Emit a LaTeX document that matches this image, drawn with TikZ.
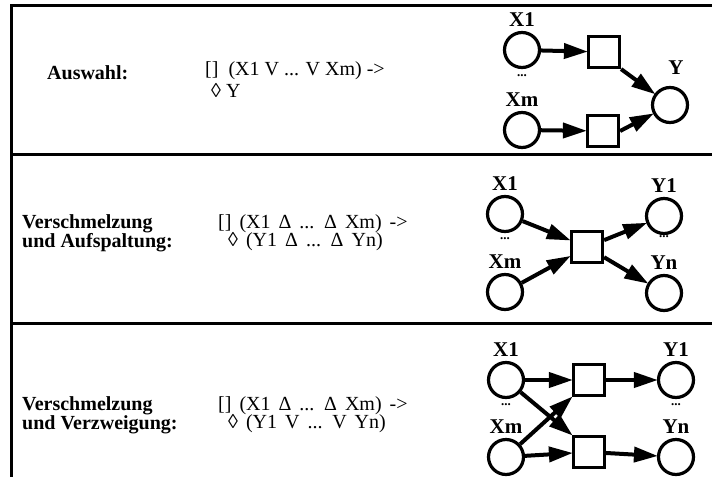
\documentclass[tikz,border=0pt]{standalone}
\usepackage{fontspec}
\setmainfont{Liberation Serif}
\usetikzlibrary{arrows.meta}
\usetikzlibrary{positioning}

\tikzset{
  place/.style={circle,draw,line width=3.2pt,minimum size=35pt,inner sep=0pt},
  trans/.style={rectangle,draw,line width=3.2pt,minimum size=31pt,inner sep=0pt},
  flow/.style={line width=4pt,-{Triangle[length=24pt,width=15pt]},shorten >=-1pt},
  lbl/.style={font=\bfseries\fontsize{21}{21}\selectfont,inner sep=0pt},
  dots/.style={font=\bfseries\fontsize{13}{13}\selectfont,inner sep=0pt},
  kind/.style={font=\bfseries\fontsize{20}{19}\selectfont,align=left,anchor=west,inner sep=0pt},
  formula/.style={font=\fontsize{20}{19}\selectfont,anchor=west,inner sep=0pt},
  wide/.style={formula,execute at begin node={\spaceskip=0.4em plus 0.1em}},
  frame/.style={line width=3pt}
}

\begin{document}
\begin{tikzpicture}[x=1pt,y=-1pt]
\useasboundingbox (0,0) rectangle (712,477);

\draw[frame] (712,5) -- (11,5) -- (11,477);
\draw[frame] (11,154) -- (712,154);
\draw[frame] (11,323) -- (712,323);

% Auswahl
\node[kind] (aw) at (47,73) {Auswahl:};
\node[formula] (aw1) at (205,71) {[]\ \ (X1 V ... V Xm) ->};
\node[formula] (aw2) at (211,90) {◊ Y};

\node[place] (ax1) at (522,50) {};
\node[place] (axm) at (522,130) {};
\node[trans] (at1) at (604,52) {};
\node[trans] (at2) at (603,131) {};
\node[place] (ay) at (670,105) {};
\node[lbl,above=4pt of ax1] (ax1l) {X1};
\node[lbl,above=4pt of axm] (axml) {Xm};
\node[dots,below=5pt of ax1] (axd) {...};
\node[lbl] (ayl) at (676,68) {Y};
\draw[flow] (ax1) -- (at1);
\draw[flow] (axm) -- (at2);
\draw[flow] (at1.south east) -- (ay);
\draw[flow] (at2.east) -- (ay);

% Verschmelzung und Aufspaltung
\node[kind] (va) at (22,233) {Verschmelzung\\und Aufspaltung:};
\node[wide] (va1) at (218,224) {[] (X1 Δ ... Δ Xm) ->};
\node[wide] (va2) at (228,242) {◊ (Y1 Δ ... Δ Yn)};

\node[place] (bx1) at (505,214) {};
\node[place] (bxm) at (505,292) {};
\node[trans] (bt) at (587,247) {};
\node[place] (by1) at (664,216) {};
\node[place] (byn) at (664,293) {};
\node[lbl,above=4pt of bx1] (bx1l) {X1};
\node[lbl,above=4pt of bxm] (bxml) {Xm};
\node[lbl,above=4pt of by1] (by1l) {Y1};
\node[lbl,above=4pt of byn] (bynl) {Yn};
\node[dots,below=4pt of bx1] (bxd) {...};
\node[dots,below=0pt of by1] (byd) {...};
\draw[flow] (bx1) -- (bt);
\draw[flow] (bxm) -- (bt);
\draw[flow] (bt) -- (by1);
\draw[flow] (bt) -- (byn);

% Verschmelzung und Verzweigung
\node[kind] (vv) at (22,415) {Verschmelzung\\und Verzweigung:};
\node[wide] (vv1) at (218,406) {[] (X1 Δ ... Δ Xm) ->};
\node[wide] (vv2) at (228,424) {◊ (Y1 V ... V Yn)};

\node[place] (cx1) at (506,380) {};
\node[place] (cxm) at (506,457) {};
\node[trans] (ct1) at (589,380) {};
\node[trans] (ct2) at (589,452) {};
\node[place] (cy1) at (676,380) {};
\node[place] (cyn) at (676,457) {};
\node[lbl,above=4pt of cx1] (cx1l) {X1};
\node[lbl,above=4pt of cxm] (cxml) {Xm};
\node[lbl,above=4pt of cy1] (cy1l) {Y1};
\node[lbl,above=4pt of cyn] (cynl) {Yn};
\node[dots,below=4pt of cx1] (cxd) {...};
\node[dots,below=4pt of cy1] (cyd) {...};
\draw[flow] (cx1) -- (ct1);
\draw[flow] (cx1) -- (ct2.north west);
\draw[flow] (cxm) -- (ct1.south west);
\draw[flow] (cxm) -- (ct2);
\draw[flow] (ct1) -- (cy1);
\draw[flow] (ct2) -- (cyn);
\end{tikzpicture}
\end{document}
